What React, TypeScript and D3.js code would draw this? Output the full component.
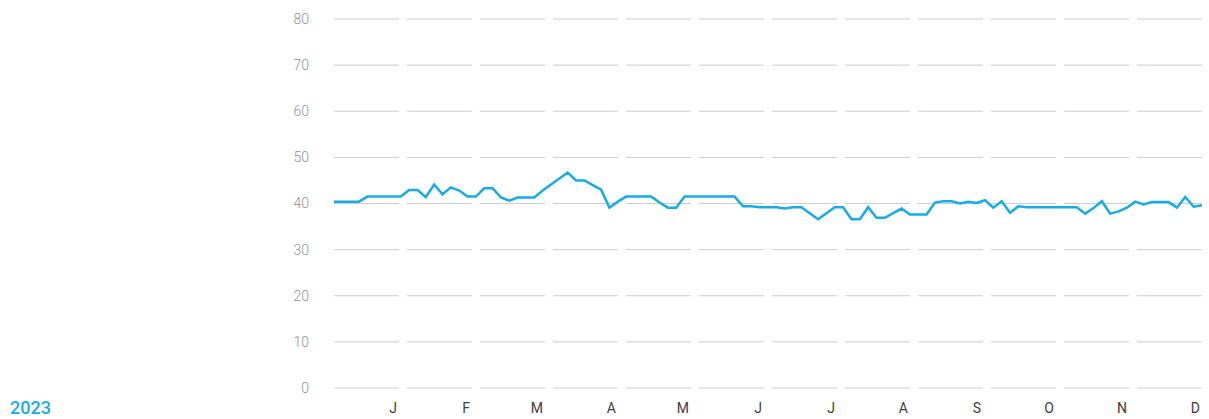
import React from 'react';
import * as d3 from 'd3';

// month band labels along the bottom
const months = ['J', 'F', 'M', 'A', 'M', 'J', 'J', 'A', 'S', 'O', 'N', 'D'];
const yTicks = [0, 10, 20, 30, 40, 50, 60, 70, 80];
const yearLabel = '2023';

// series values (about two per week)
const values = [
  40.4, 40.4, 40.4, 40.4,
  41.5, 41.5, 41.5, 41.5, 41.5,
  42.9, 42.9, 41.4, 44.1, 42.0, 43.5, 42.8, 41.5, 41.5,
  43.3, 43.3, 41.3, 40.6, 41.3, 41.3, 41.3,
  42.8, 44.1, 45.4, 46.7, 45.0, 45.0, 44.0, 43.0, 39.1, 40.4,
  41.5, 41.5, 41.5, 41.5, 40.2, 39.1, 39.1,
  41.5, 41.5, 41.5, 41.5, 41.5, 41.5, 41.5,
  39.4, 39.4, 39.2, 39.2, 39.2, 38.9, 39.2, 39.2, 37.9, 36.6, 37.9, 39.2, 39.2,
  36.6, 36.6, 39.2, 36.9, 36.9, 37.9, 38.9, 37.6, 37.6, 37.6,
  40.2, 40.5, 40.5, 40.0, 40.4, 40.1, 40.7, 39.1, 40.5, 38.0, 39.4,
  39.2, 39.2, 39.2, 39.2, 39.2, 39.2, 39.2,
  37.8, 39.0, 40.5, 37.8, 38.3, 39.1, 40.4, 39.8, 40.3, 40.3, 40.3, 39.1, 41.4, 39.3, 39.6,
];

const WIDTH = 1209;
const HEIGHT = 419;
const BLUE = '#16ace8';

const App = () => {
  const band = d3.scaleBand<number>().domain(d3.range(months.length)).range([334, 1210]);
  const gap = 8;
  const x = d3.scaleLinear().domain([0, values.length - 1]).range([334, 1202]);
  const y = d3.scaleLinear().domain([0, 80]).range([388, 19]);

  const line = d3
    .line<number>()
    .x((_, i) => x(i))
    .y((d) => y(d));

  return (
    <svg
      width={WIDTH}
      height={HEIGHT}
      style={{ position: 'absolute', left: 0, top: 0, fontFamily: 'Roboto, sans-serif' }}
    >
      {/* y grid, broken into one segment per month */}
      {yTicks.map((t) => (
        <g key={t}>
          {months.map((m, i) => (
            <line
              key={i}
              x1={band(i)!}
              x2={band(i)! + band.bandwidth() - gap}
              y1={y(t)}
              y2={y(t)}
              stroke="#c9cdd2"
              strokeWidth={1}
            />
          ))}
          <text
            x={309}
            y={y(t)}
            dy="0.35em"
            textAnchor="end"
            fontSize={14}
            fontWeight={300}
            fill="#8d949c"
          >
            {t}
          </text>
        </g>
      ))}

      {/* month labels */}
      {months.map((m, i) => (
        <text
          key={i}
          x={band(i)! + band.bandwidth() - gap - 2}
          y={413}
          textAnchor="end"
          fontSize={14}
          fill="#3c3c3c"
        >
          {m}
        </text>
      ))}

      <text x={10} y={414} fontSize={18} fontWeight={500} fill={BLUE}>
        {yearLabel}
      </text>

      <path
        d={line(values) ?? ''}
        fill="none"
        stroke={BLUE}
        strokeWidth={2.5}
        strokeLinejoin="miter"
      />
    </svg>
  );
};

export default App;
